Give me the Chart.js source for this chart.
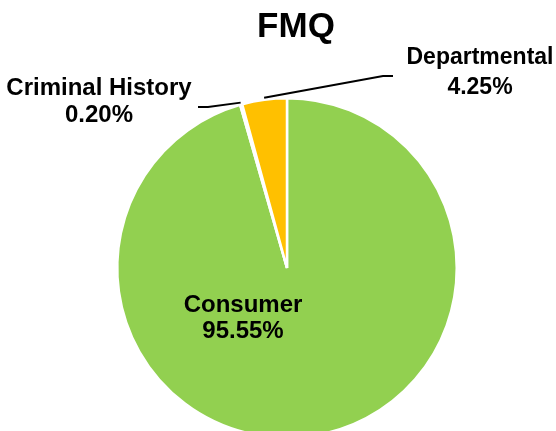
<!DOCTYPE html>
<html>
<head>
<meta charset="utf-8">
<style>
  html, body { margin: 0; padding: 0; background: #fff; overflow: hidden; }
  #wrap { position: relative; width: 556px; height: 460px; }
</style>
<script src="https://cdn.jsdelivr.net/npm/chart.js@4/dist/chart.umd.min.js"></script>
</head>
<body>
<div id="wrap"><canvas id="fmqChart"></canvas></div>
<script>
const chartTitle = 'FMQ';
const categories = ['Consumer', 'Criminal History', 'Departmental'];
const shares = [95.55, 0.20, 4.25];
const sliceColors = ['#92D050', '#FFFFFF', '#FFC000'];

// where each data label sits (Excel-style manual placement)
const labelSpots = [
  { x: 243, y: 312, size: 24, gap: 26 },
  { x: 99, y: 95, size: 24, gap: 27 },
  { x: 480, y: 64, size: 23, gap: 30 }
];
// leader line elbows for labels outside the pie (null = none)
const elbows = [null, [[208, 107], [198, 107]], [[383, 76], [393, 76]]];

const FONT = '"Liberation Sans", Arial, sans-serif';

const labelPlugin = {
  id: 'fmqLabels',
  afterDraw(chart) {
    const ctx = chart.ctx;
    const meta = chart.getDatasetMeta(0);
    ctx.save();
    ctx.fillStyle = '#000';
    ctx.textAlign = 'center';
    ctx.textBaseline = 'alphabetic';
    ctx.font = 'bold 35px ' + FONT;
    ctx.fillText(chartTitle, 296, 37);

    meta.data.forEach((arc, i) => {
      const p = arc.getProps(['x', 'y', 'startAngle', 'endAngle', 'outerRadius'], true);
      if (elbows[i]) {
        const mid = (p.startAngle + p.endAngle) / 2;
        const r = p.outerRadius + 2;
        ctx.beginPath();
        ctx.moveTo(p.x + Math.cos(mid) * r, p.y + Math.sin(mid) * r);
        elbows[i].forEach(pt => ctx.lineTo(pt[0], pt[1]));
        ctx.lineWidth = 2;
        ctx.strokeStyle = '#000';
        ctx.stroke();
      }
      const s = labelSpots[i];
      ctx.font = 'bold ' + s.size + 'px ' + FONT;
      ctx.fillText(categories[i], s.x, s.y);
      ctx.fillText(shares[i].toFixed(2) + '%', s.x, s.y + s.gap);
    });
    ctx.restore();
  }
};

new Chart(document.getElementById('fmqChart'), {
  type: 'pie',
  data: {
    labels: categories,
    datasets: [{
      data: shares,
      backgroundColor: sliceColors,
      borderColor: '#FFFFFF',
      borderWidth: 2.5
    }]
  },
  options: {
    responsive: true,
    maintainAspectRatio: false,
    animation: false,
    layout: { padding: { left: 116, right: 98, top: 96, bottom: 20 } },
    plugins: {
      legend: { display: false },
      tooltip: { enabled: false },
      title: { display: false }
    }
  },
  plugins: [labelPlugin]
});
</script>
</body>
</html>
